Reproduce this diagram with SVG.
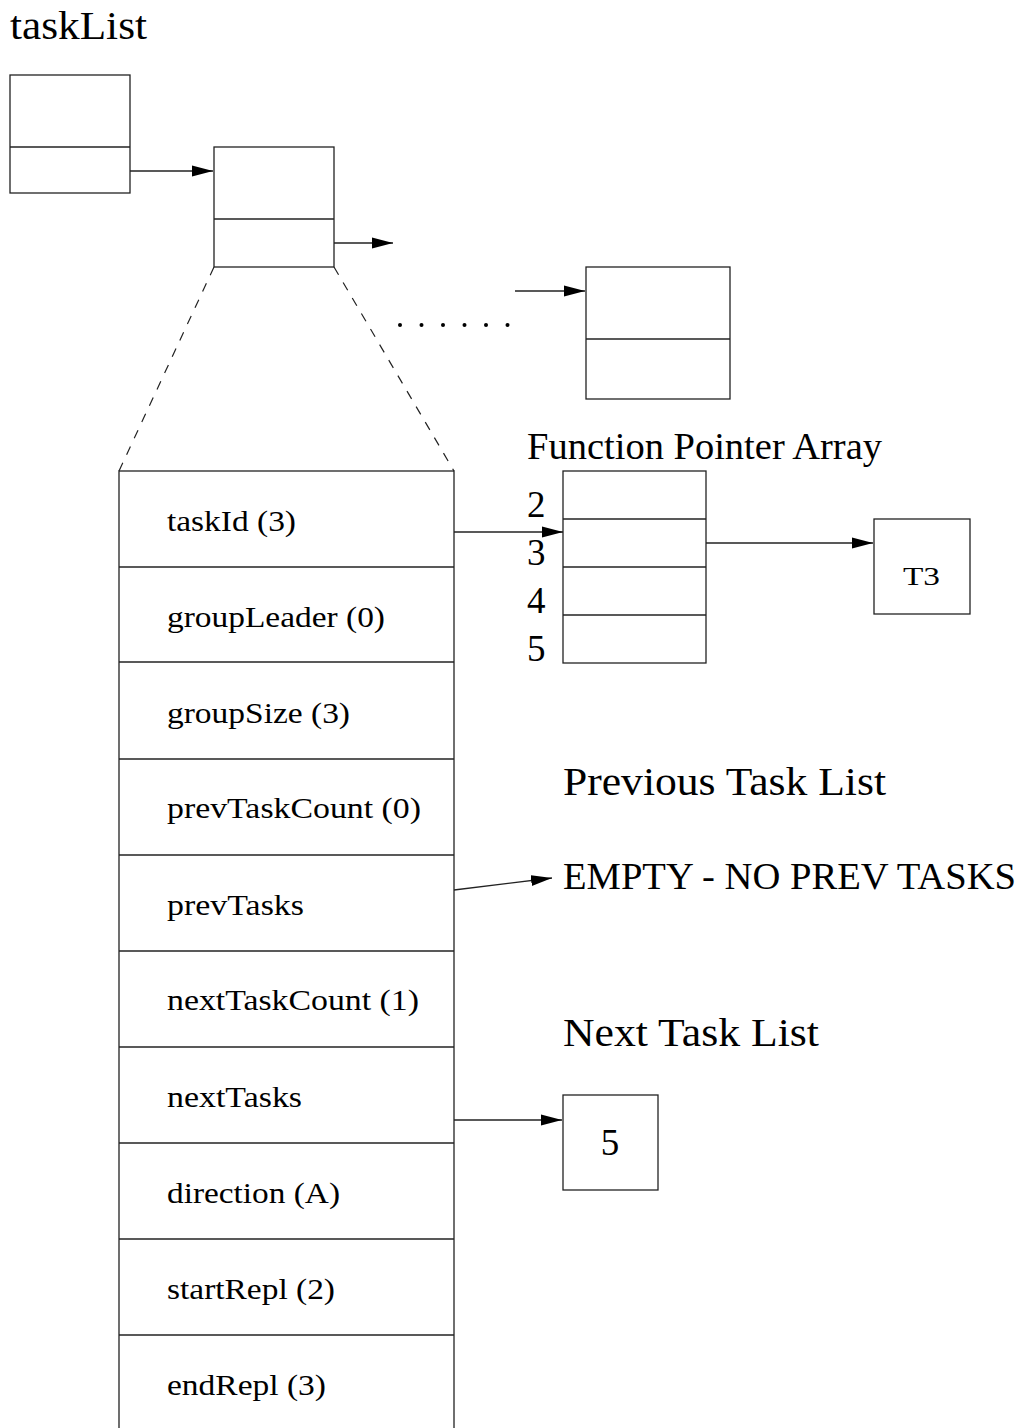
<svg xmlns="http://www.w3.org/2000/svg" width="1023" height="1428" viewBox="0 0 1023 1428">
<style>
.box{fill:#fff;stroke:#222;stroke-width:1.3}
.ln{fill:none;stroke:#222;stroke-width:1.3}
.dash{fill:none;stroke:#222;stroke-width:1.2;stroke-dasharray:9 9}
.t{font-family:"Liberation Serif","Times New Roman",serif;fill:#000}
.lab{font-size:30px}
.big{font-size:37px}
.huge{font-size:40px}
</style>
<defs>
<marker id="ah" markerWidth="22" markerHeight="12" refX="21" refY="6" orient="auto" markerUnits="userSpaceOnUse">
<path d="M0,0.5 L21,6 L0,11.5 Z" fill="#000"/>
</marker>
</defs>
<rect width="1023" height="1428" fill="#fff"/>
<text class="t huge" x="10" y="39" textLength="137" lengthAdjust="spacingAndGlyphs">taskList</text>
<g id="node1"><rect class="box" x="10" y="75" width="120" height="118"/><line class="ln" x1="10" y1="147" x2="130" y2="147"/></g>
<g id="node2"><rect class="box" x="214" y="147" width="120" height="120"/><line class="ln" x1="214" y1="219" x2="334" y2="219"/></g>
<g id="node3"><rect class="box" x="586" y="267" width="144" height="132"/><line class="ln" x1="586" y1="339" x2="730" y2="339"/></g>
<g id="dots" fill="#000"><circle cx="400" cy="325" r="2"/><circle cx="421.5" cy="325" r="2"/><circle cx="443" cy="325" r="2"/><circle cx="464.5" cy="325" r="2"/><circle cx="486" cy="325" r="2"/><circle cx="507.5" cy="325" r="2"/></g>
<g id="task">
<rect class="box" x="119" y="471" width="335" height="970"/>
<g class="ln">
<line x1="119" y1="567" x2="454" y2="567"/><line x1="119" y1="662" x2="454" y2="662"/><line x1="119" y1="759" x2="454" y2="759"/><line x1="119" y1="855" x2="454" y2="855"/><line x1="119" y1="951" x2="454" y2="951"/><line x1="119" y1="1047" x2="454" y2="1047"/><line x1="119" y1="1143" x2="454" y2="1143"/><line x1="119" y1="1239" x2="454" y2="1239"/><line x1="119" y1="1335" x2="454" y2="1335"/>
</g>
<g class="t lab">
<text x="167" y="531" textLength="129" lengthAdjust="spacingAndGlyphs">taskId (3)</text>
<text x="167" y="627" textLength="218" lengthAdjust="spacingAndGlyphs">groupLeader (0)</text>
<text x="167" y="723" textLength="183" lengthAdjust="spacingAndGlyphs">groupSize (3)</text>
<text x="167" y="818" textLength="254" lengthAdjust="spacingAndGlyphs">prevTaskCount (0)</text>
<text x="167" y="915" textLength="137" lengthAdjust="spacingAndGlyphs">prevTasks</text>
<text x="167" y="1010" textLength="252" lengthAdjust="spacingAndGlyphs">nextTaskCount (1)</text>
<text x="167" y="1107" textLength="135" lengthAdjust="spacingAndGlyphs">nextTasks</text>
<text x="167" y="1203" textLength="173" lengthAdjust="spacingAndGlyphs">direction (A)</text>
<text x="167" y="1299" textLength="168" lengthAdjust="spacingAndGlyphs">startRepl (2)</text>
<text x="167" y="1395" textLength="159" lengthAdjust="spacingAndGlyphs">endRepl (3)</text>
</g>
</g>
<text class="t big" x="527" y="459" textLength="355" lengthAdjust="spacingAndGlyphs">Function Pointer Array</text>
<g id="fparray">
<rect class="box" x="563" y="471" width="143" height="192"/>
<line class="ln" x1="563" y1="519" x2="706" y2="519"/><line class="ln" x1="563" y1="567" x2="706" y2="567"/><line class="ln" x1="563" y1="615" x2="706" y2="615"/>
<g class="t big"><text x="527" y="517">2</text><text x="527" y="565">3</text><text x="527" y="613">4</text><text x="527" y="661">5</text></g>
</g>
<g id="t3"><rect class="box" x="874" y="519" width="96" height="95"/><text class="t" font-size="25" x="903" y="585" textLength="37" lengthAdjust="spacingAndGlyphs">T3</text></g>
<text class="t huge" x="563" y="795" textLength="323" lengthAdjust="spacingAndGlyphs">Previous Task List</text>
<text class="t big" x="563" y="889" textLength="453" lengthAdjust="spacingAndGlyphs">EMPTY - NO PREV TASKS</text>
<text class="t huge" x="563" y="1046" textLength="256" lengthAdjust="spacingAndGlyphs">Next Task List</text>
<g id="n5"><rect class="box" x="563" y="1095" width="95" height="95"/><text class="t big" x="610" y="1155" text-anchor="middle">5</text></g>
<g id="connectors">
<line class="ln" x1="130" y1="171" x2="213" y2="171" marker-end="url(#ah)"/>
<line class="ln" x1="334" y1="243" x2="393" y2="243" marker-end="url(#ah)"/>
<line class="ln" x1="515" y1="291" x2="585" y2="291" marker-end="url(#ah)"/>
<line class="dash" x1="214" y1="267" x2="119" y2="471"/>
<line class="dash" x1="334" y1="267" x2="454" y2="471"/>
<line class="ln" x1="454" y1="532" x2="563" y2="532" marker-end="url(#ah)"/>
<line class="ln" x1="706" y1="543" x2="873" y2="543" marker-end="url(#ah)"/>
<line class="ln" x1="454" y1="890" x2="552" y2="878" marker-end="url(#ah)"/>
<line class="ln" x1="454" y1="1120" x2="562" y2="1120" marker-end="url(#ah)"/>
</g>
</svg>
